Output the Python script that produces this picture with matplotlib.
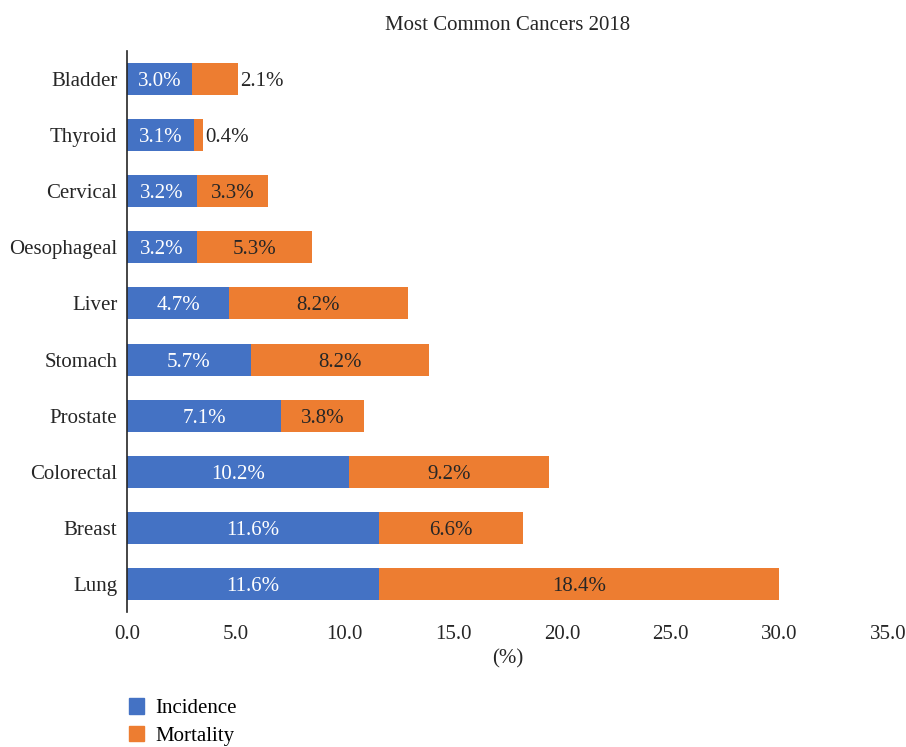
import matplotlib
matplotlib.use("Agg")
import matplotlib.pyplot as plt
from matplotlib.patches import Patch

categories = ["Lung", "Breast", "Colorectal", "Prostate", "Stomach", "Liver",
              "Oesophageal", "Cervical", "Thyroid", "Bladder"]
incidence = [11.6, 11.6, 10.2, 7.1, 5.7, 4.7, 3.2, 3.2, 3.1, 3.0]
mortality = [18.4, 6.6, 9.2, 3.8, 8.2, 8.2, 5.3, 3.3, 0.4, 2.1]
xticks = [0, 5, 10, 15, 20, 25, 30, 35]

plt.rcParams['font.family'] = ['Liberation Serif', 'DejaVu Serif']

blue = "#4472C4"
orange = "#ED7D31"

fig = plt.figure(figsize=(9.06, 7.47), dpi=100)
ax = fig.add_axes([0.1402, 0.1807, 0.8400, 0.7510])

y = list(range(len(categories)))
h = 0.57
ax.barh(y, incidence, height=h, color=blue)
ax.barh(y, mortality, left=incidence, height=h, color=orange)

fs = 15
for i in y:
    ax.text(incidence[i] / 2, i, f"{incidence[i]:.1f}%", ha="center", va="center_baseline",
            color="white", fontsize=fs)
    total = incidence[i] + mortality[i]
    if mortality[i] < 2.5:
        ax.text(total + 0.1, i, f"{mortality[i]:.1f}%", ha="left", va="center_baseline",
                color="#262626", fontsize=fs)
    else:
        ax.text(incidence[i] + mortality[i] / 2, i, f"{mortality[i]:.1f}%", ha="center",
                va="center_baseline", color="#262626", fontsize=fs)

ax.set_xlim(0, 35)
ax.set_ylim(-0.5, len(categories) - 0.5)
ax.set_yticks(y)
ax.set_yticklabels(categories, fontsize=fs, color="#262626")
ax.set_xticks(xticks)
ax.set_xticklabels([f"{v:.1f}" for v in xticks], fontsize=fs, color="#262626")
ax.tick_params(axis="y", length=0, pad=7)
ax.tick_params(axis="x", length=0, pad=9)
for s in ["top", "right", "bottom"]:
    ax.spines[s].set_visible(False)
ax.spines["left"].set_color("#262626")
ax.spines["left"].set_linewidth(1.2)
ax.set_xlabel("(%)", fontsize=fs, color="#262626", labelpad=4)
ax.set_title("Most Common Cancers 2018", fontsize=fs, color="#262626", pad=15)

handles = [Patch(color=blue, label="Incidence"), Patch(color=orange, label="Mortality")]
fig.legend(handles=handles, loc="upper left", bbox_to_anchor=(0.142, 0.065),
           frameon=False, fontsize=fs, handlelength=0.75, handleheight=0.75,
           handletextpad=0.55, labelspacing=0.35, borderaxespad=0, borderpad=0)

fig.savefig("out.png", dpi=100)
